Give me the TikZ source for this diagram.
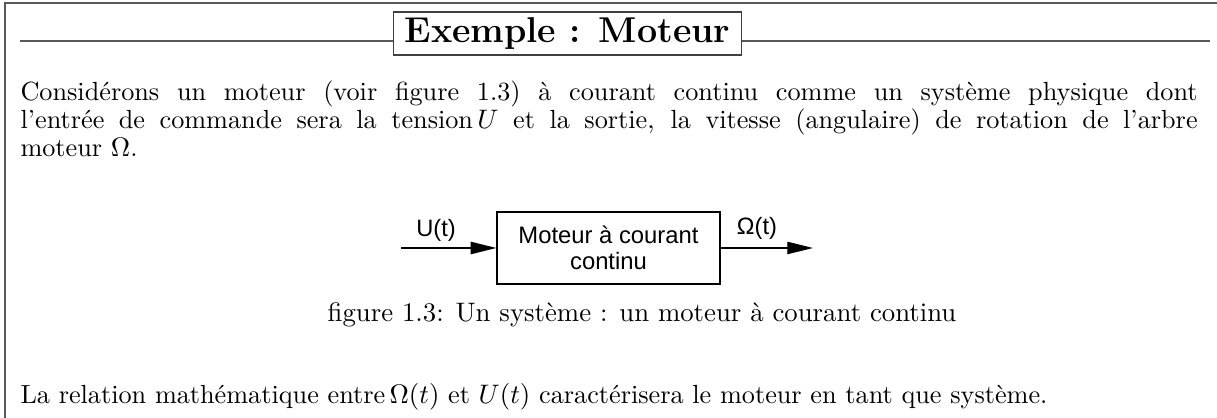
\documentclass[tikz,border=0pt]{standalone}
\usepackage{fontspec}
\newfontfamily\diagfont{Liberation Sans}
\usetikzlibrary{arrows.meta}
\tikzset{
  frameline/.style={draw=black!65, line width=0.5pt},
  titlebox/.style={draw=black!75, fill=white, line width=0.5pt, inner xsep=4.1pt,
    inner ysep=0pt, minimum height=16.1pt,
    font=\fontsize{13.4pt}{16pt}\selectfont\bfseries},
  bodytext/.style={inner sep=0pt, text width=439.9pt, align=justify,
    font=\fontsize{9.8pt}{10.46pt}\selectfont},
  captext/.style={inner sep=0pt, font=\fontsize{10pt}{10.46pt}\selectfont},
  block/.style={draw, line width=0.5pt, minimum width=83.3pt, minimum height=26.9pt,
    align=center, inner sep=0pt, font=\diagfont\fontsize{8.9pt}{9.6pt}\selectfont},
  signal/.style={line width=0.5pt, -{Triangle[length=9.6pt,width=4.6pt]}},
  siglabel/.style={inner sep=0pt, font=\diagfont\fontsize{8.85pt}{10pt}\selectfont}
}
\begin{document}
\begin{tikzpicture}[x=0.3737pt, y=-0.3737pt]
  \useasboundingbox (0,0) rectangle (1217,418);
  % outer frame (top and left sides)
  \coordinate (ftr) at (1217,3);
  \coordinate (ftl) at (5,3);
  \coordinate (fbl) at (5,418);
  \draw[frameline] (ftr) -- (ftl) -- (fbl);

  % heading with rule
  \node[titlebox] (title) at (567.5,33.5) {Exemple : Moteur};
  \coordinate (rl) at (20,41);
  \coordinate (rr) at (1210,41);
  \draw[frameline] (rl) -- (rl -| title.west);
  \draw[frameline] (title.east |- rr) -- (rr);

  % opening paragraph
  \node[bodytext, anchor=base west] (intro) at (20,101)
    {Considérons un moteur (voir figure 1.3) à courant continu comme un système physique dont\linebreak
     l'entrée de commande sera la tension\,$U$ et la sortie, la vitesse (angulaire) de rotation de l'arbre\linebreak
     moteur $\Omega$.};

  % block diagram
  \node[block] (motor) at (608.5,248) {Moteur à courant\\continu};
  \coordinate (uin) at (401,248);
  \coordinate (wout) at (813,248);
  \draw[signal] (uin) -- (motor.west);
  \draw[signal] (motor.east) -- (wout);
  \node[siglabel] (ulbl) at (436,230) {U(t)};
  \node[siglabel] (wlbl) at (757,228) {Ω(t)};

  % caption
  \node[captext, anchor=base] (cap) at (642,322)
    {figure 1.3: Un système : un moteur à courant continu};

  % closing sentence
  \node[bodytext, anchor=base west] (concl) at (20,404)
    {La relation mathématique entre\,$\Omega(t)$ et $U(t)$ caractérisera le moteur en tant que système.};
\end{tikzpicture}
\end{document}
